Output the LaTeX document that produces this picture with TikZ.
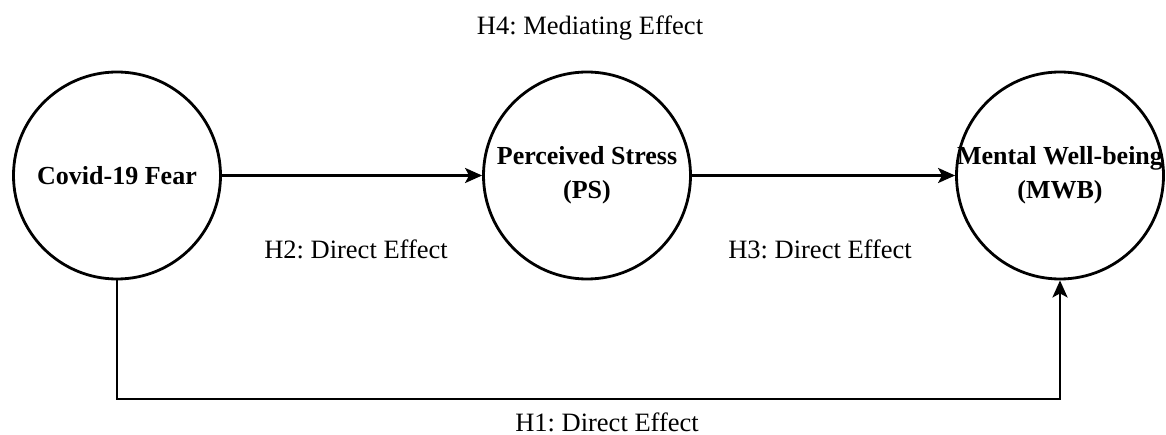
\documentclass[tikz,border=0pt]{standalone}
\usepackage{fontspec}
\setmainfont{Liberation Serif}
\usetikzlibrary{arrows.meta}
\frenchspacing
\tikzset{
  circ/.style={circle, draw=black, line width=2.8pt, minimum size=207pt, inner sep=0pt},
  ctext/.style={font=\fontsize{26}{34}\selectfont\bfseries, align=center, inner sep=0pt},
  lbl/.style={font=\fontsize{26.5}{30}\selectfont, inner sep=0pt},
  arr/.style={line width=2.8pt, -{Stealth[length=17pt,width=15pt,inset=4pt]}},
}
\begin{document}
\begin{tikzpicture}[x=1pt,y=-1pt]
\useasboundingbox (0,0) rectangle (1166,435);
\node[circ] (cf) at (117,175.5) {};
\node[circ] (ps) at (587,175.5) {};
\node[circ] (mwb) at (1060,175.5) {};
\node[ctext] (cft) at (cf) {Covid-19 Fear};
\node[ctext] (pst) at (ps) {Perceived Stress\\(PS)};
\node[ctext] (mwbt) at (mwb) {Mental Well-being\\(MWB)};
\coordinate (bl) at (117,399);
\draw[arr] (cf.east) -- (ps.west);
\draw[arr] (ps.east) -- (mwb.west);
\draw[arr] (cf.south) -- (cf.south |- bl) -- (mwb.south |- bl) -- (mwb.south);
\node[lbl] (h4) at (590,28) {H4: Mediating Effect};
\node[lbl] (h2) at (356,249) {H2: Direct Effect};
\node[lbl] (h3) at (820,249) {H3: Direct Effect};
\node[lbl] (h1) at (607,422) {H1: Direct Effect};
\end{tikzpicture}
\end{document}
